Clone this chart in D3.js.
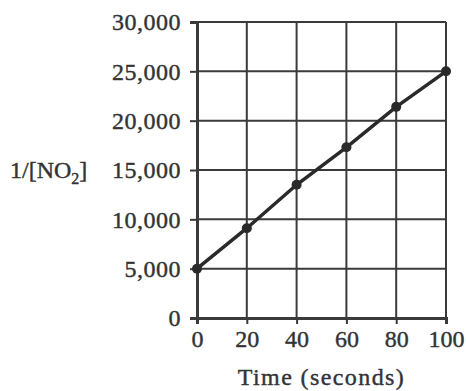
<!DOCTYPE html>
<html>
<head>
<meta charset="utf-8">
<script src="https://cdn.jsdelivr.net/npm/d3@7"></script>
<style>
  body { margin: 0; background: #fff; }
  text { font-family: "Liberation Serif", "DejaVu Serif", serif; fill: #333; }
</style>
</head>
<body>
<svg width="466" height="391"></svg>
<script>
// data
const times = [0, 20, 40, 60, 80, 100];
const invNO2 = [5000, 9100, 13500, 17300, 21400, 25000];
const xTicks = [0, 20, 40, 60, 80, 100];
const yTicks = [0, 5000, 10000, 15000, 20000, 25000, 30000];

const svg = d3.select("svg");
const plotL = 197, plotR = 446, plotT = 22, plotB = 318;

const x = d3.scaleLinear().domain([0, 100]).range([plotL, plotR]);
const y = d3.scaleLinear().domain([0, 30000]).range([plotB, plotT]);

const ink = "#3a3a3a";

// grid
svg.append("g").selectAll("line")
  .data(xTicks.slice(1))
  .enter().append("line")
  .attr("x1", d => x(d)).attr("x2", d => x(d))
  .attr("y1", plotT).attr("y2", plotB)
  .attr("stroke", ink).attr("stroke-width", 2);

svg.append("g").selectAll("line")
  .data(yTicks.slice(1))
  .enter().append("line")
  .attr("x1", plotL).attr("x2", plotR)
  .attr("y1", d => y(d)).attr("y2", d => y(d))
  .attr("stroke", ink).attr("stroke-width", 2);

// axes
const yAxis = svg.append("g")
  .attr("transform", "translate(" + plotL + ",0)")
  .call(d3.axisLeft(y).tickValues(yTicks).tickSize(7).tickPadding(9)
    .tickFormat(d3.format(",")));
const xAxis = svg.append("g")
  .attr("transform", "translate(0," + plotB + ")")
  .call(d3.axisBottom(x).tickValues(xTicks).tickSize(6).tickPadding(6));

[yAxis, xAxis].forEach(a => {
  a.attr("font-family", null).attr("font-size", null);
  a.select(".domain").attr("stroke", ink).attr("stroke-width", 3);
  a.selectAll(".tick line").attr("stroke", ink).attr("stroke-width", 2);
  a.selectAll("text")
    .attr("font-size", 24)
    .attr("fill", "#333")
    .attr("stroke", "#333")
    .attr("stroke-width", 0.4);
});
yAxis.selectAll("text").attr("letter-spacing", 0.5);

// data line and points
const pts = times.map((t, i) => [t, invNO2[i]]);
svg.append("path")
  .datum(pts)
  .attr("fill", "none")
  .attr("stroke", "#2a2a2a")
  .attr("stroke-width", 3.5)
  .attr("d", d3.line().x(d => x(d[0])).y(d => y(d[1])));

svg.append("g").selectAll("circle")
  .data(pts)
  .enter().append("circle")
  .attr("cx", d => x(d[0]))
  .attr("cy", d => y(d[1]))
  .attr("r", 5)
  .attr("fill", "#2a2a2a");

// axis titles
const yt = svg.append("text")
  .attr("x", 10).attr("y", 178)
  .attr("font-size", 24)
  .attr("stroke", "#333").attr("stroke-width", 0.4);
yt.append("tspan").text("1/[NO");
yt.append("tspan").attr("font-size", 16).attr("dy", 6).text("2");
yt.append("tspan").attr("dy", -6).text("]");

svg.append("text")
  .attr("x", (plotL + plotR) / 2).attr("y", 385)
  .attr("text-anchor", "middle")
  .attr("font-size", 24)
  .attr("letter-spacing", 1.4)
  .attr("stroke", "#333").attr("stroke-width", 0.4)
  .text("Time (seconds)");
</script>
</body>
</html>
